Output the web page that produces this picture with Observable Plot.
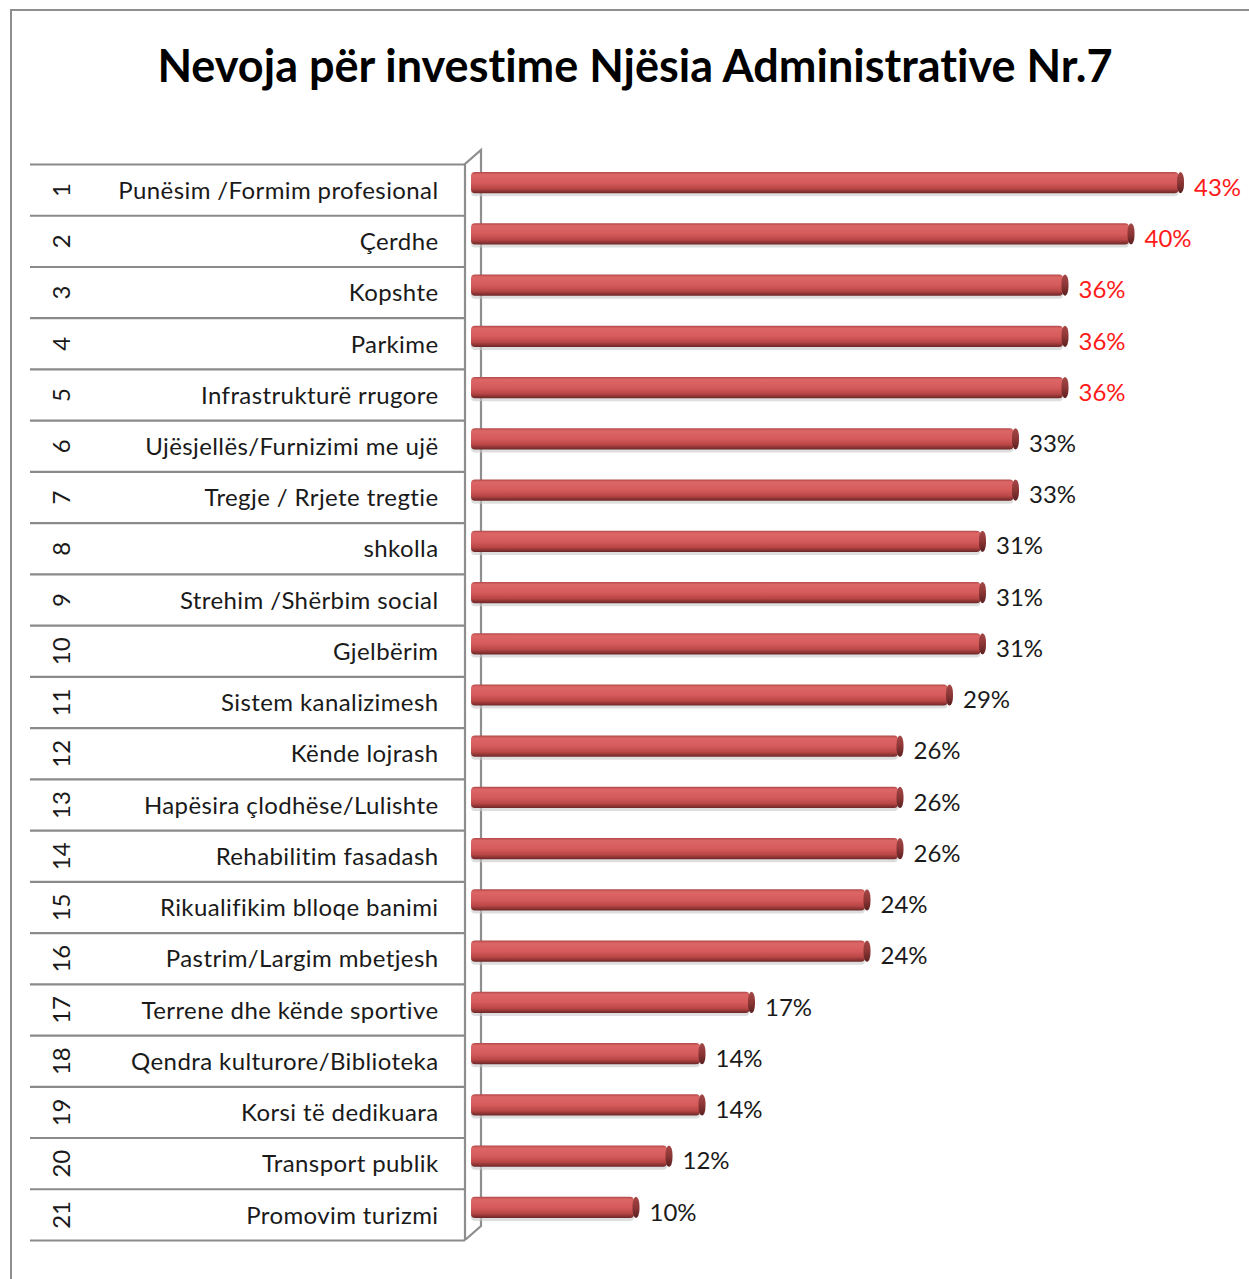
<!DOCTYPE html>
<html><head><meta charset="utf-8">
<script src="https://cdn.jsdelivr.net/npm/d3@7"></script>
<script src="https://cdn.jsdelivr.net/npm/@observablehq/plot@0.6"></script>
<style>
html,body{margin:0;padding:0;background:#fff;overflow:hidden;}
#wrap{position:relative;width:1249px;height:1279px;overflow:hidden;background:#fff;}
#frame{position:absolute;left:10px;top:9px;width:1400px;height:1400px;border-left:2px solid #8e8e8e;border-top:2px solid #8e8e8e;}
#title{position:absolute;left:0;top:38px;width:1270px;text-align:center;font-family:Lato,"Open Sans",sans-serif;font-weight:bold;font-size:45px;color:#000;white-space:nowrap;font-variant-ligatures:none;font-feature-settings:"liga" 0,"dlig" 0;}
#chart{position:absolute;left:0;top:130px;}
#chart svg text{font-variant-ligatures:none;font-feature-settings:"liga" 0;}
</style>
</head><body>
<div id="wrap"><div id="frame"></div><div id="title">Nevoja për investime Njësia Administrative Nr.7</div><div id="chart"></div></div>
<script>
const ranks = [1,2,3,4,5,6,7,8,9,10,11,12,13,14,15,16,17,18,19,20,21];
const categories = [
  "Punësim /Formim profesional","Çerdhe","Kopshte","Parkime","Infrastrukturë rrugore",
  "Ujësjellës/Furnizimi me ujë","Tregje / Rrjete tregtie","shkolla","Strehim /Shërbim social",
  "Gjelbërim","Sistem kanalizimesh","Kënde lojrash","Hapësira çlodhëse/Lulishte",
  "Rehabilitim fasadash","Rikualifikim blloqe banimi","Pastrim/Largim mbetjesh",
  "Terrene dhe kënde sportive","Qendra kulturore/Biblioteka","Korsi të dedikuara",
  "Transport publik","Promovim turizmi"
];
const values = [43,40,36,36,36,33,33,31,31,31,29,26,26,26,24,24,17,14,14,12,10];

const rows = ranks.map((r, i) => ({rank: r, category: categories[i], value: values[i], top: i < 5}));
const bounds = [0.5, ...ranks.map(r => r + 0.5)];

const W = 1249, H = 1149;
const FONT = "Lato, 'Open Sans', sans-serif";

const decor = (index, scales) => {
  const x = scales.x, y = scales.y;
  const g = d3.create("svg:g");
  const defs = g.append("defs");
  const bg = defs.append("linearGradient").attr("id","barGrad").attr("x1",0).attr("y1",0).attr("x2",0).attr("y2",1);
  [[0,"#b14848"],[0.12,"#dc6666"],[0.5,"#d65b5b"],[0.78,"#b94646"],[1,"#6c2626"]]
    .forEach(([o,c]) => bg.append("stop").attr("offset",o).attr("stop-color",c));
  const cg = defs.append("linearGradient").attr("id","capGrad").attr("x1",0).attr("y1",0).attr("x2",0).attr("y2",1);
  [[0,"#a54747"],[0.5,"#8d3636"],[1,"#5a1f1f"]]
    .forEach(([o,c]) => cg.append("stop").attr("offset",o).attr("stop-color",c));
  const xf = x(0) - 6, xb = x(0) + 10, yt = y(bounds[0]), yb = y(bounds[bounds.length-1]);
  g.append("path")
    .attr("d", `M${xf},${yb}V${yt}L${xb},${yt-14}V${yb-14}L${xf},${yb}`)
    .attr("fill","none").attr("stroke","#8e8e8e").attr("stroke-width",2.2);
  return g.node();
};

const chart = Plot.plot({
  width: W, height: H,
  marginLeft: 0, marginRight: 0, marginTop: 0, marginBottom: 0,
  style: {fontFamily: FONT, fontSize: "24px", background: "transparent", overflow: "visible"},
  x: {domain: [0, 46], range: [471, 471 + 16.5 * 46], axis: null},
  y: {domain: [0.5, 21.5], range: [34, 1110], axis: null},
  marks: [
    decor,
    Plot.ruleY(bounds, {y: d => d, stroke: "#8a8a8a", strokeWidth: 2.2, strokeOpacity: 1, insetLeft: 30, insetRight: W - 465}),
    Plot.text(rows, {y: "rank", text: d => String(d.rank), frameAnchor: "left", dx: 62, rotate: -90, textAnchor: "middle", fill: "#1a1a1a", fontSize: 24}),
    Plot.text(rows, {y: "rank", text: "category", frameAnchor: "left", dx: 438, dy: 1, textAnchor: "end", fill: "#1a1a1a", fontSize: 24}),
    Plot.rect(rows, {x1: 0, x2: "value", y1: d => d.rank - 0.5, y2: d => d.rank + 0.5, insetTop: 10, insetBottom: 19, insetRight: 2, fill: "#c8c8c8", fillOpacity: 0.6, rx: 4}),
    Plot.rect(rows, {x1: 0, x2: "value", y1: d => d.rank - 0.5, y2: d => d.rank + 0.5, insetTop: 8, insetBottom: 22, insetRight: 2, fill: "url(#barGrad)", rx: 4}),
    Plot.rect(rows, {x1: "value", x2: "value", y1: d => d.rank - 0.5, y2: d => d.rank + 0.5, insetTop: 8, insetBottom: 22, insetLeft: -3.5, insetRight: -3.5, fill: "url(#capGrad)", rx: 3.5, ry: 9}),
    Plot.text(rows, {x: "value", y: "rank", text: d => d.value + "%", dx: 13, dy: -2, textAnchor: "start", fill: d => d.top ? "#ff1a1a" : "#1a1a1a", fontSize: 24})
  ]
});
const catSet = new Set(categories);
chart.querySelectorAll("text").forEach(t => { if (catSet.has(t.textContent)) t.setAttribute("letter-spacing", "0.4"); });
document.getElementById("chart").appendChild(chart);
</script>
</body></html>
